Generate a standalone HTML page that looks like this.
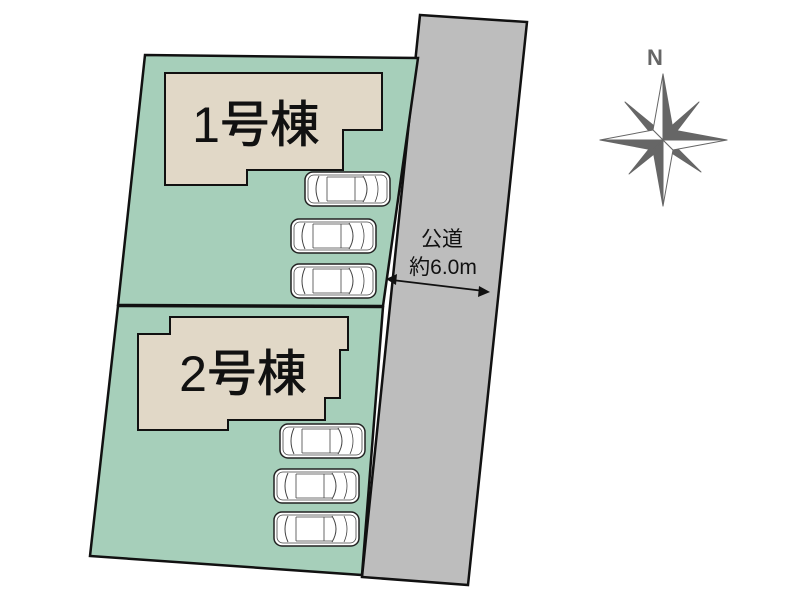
<!DOCTYPE html>
<html><head><meta charset="utf-8"><style>html,body{margin:0;padding:0;background:#fff}svg{display:block}</style></head>
<body>
<svg width="800" height="600" viewBox="0 0 800 600" xmlns="http://www.w3.org/2000/svg">
<defs>
<g id="car">
<rect x="0" y="0" width="85" height="34" rx="8" fill="#fff" stroke="#222" stroke-width="1.5"/>
<rect x="3" y="3" width="79" height="28" rx="6" fill="none" stroke="#444" stroke-width="0.8"/>
<path d="M14 4 Q8 17 14 30" fill="none" stroke="#444" stroke-width="1"/>
<path d="M22 5 L22 29 M50 5 L50 29" fill="none" stroke="#444" stroke-width="0.8"/>
<path d="M58 4 Q66 17 58 30" fill="none" stroke="#444" stroke-width="1"/>
<path d="M70 4 Q76 17 70 30" fill="none" stroke="#444" stroke-width="0.8"/>
<path d="M22 5 L58 5 M22 29 L58 29" fill="none" stroke="#444" stroke-width="0.8"/>
</g>
</defs>
<polygon points="420,15 527,22 468,585 362,577" fill="#bdbdbd" stroke="#111" stroke-width="2.5"/>
<polygon points="145,55 418,58 383,306 118,305" fill="#a6cfba" stroke="#111" stroke-width="2.5"/>
<polygon points="118,306 383,307 362,575 90,556" fill="#a6cfba" stroke="#111" stroke-width="2.5"/>
<polygon points="165,73 382,73 382,130 343,130 343,170 247,170 247,185 165,185" fill="#e1d8c7" stroke="#111" stroke-width="2"/>
<polygon points="170,317 348,317 348,350 340,350 340,398 325,398 325,420 228,420 228,430 138,430 138,334 170,334" fill="#e1d8c7" stroke="#111" stroke-width="2"/>
<text x="256" y="142" font-family="Liberation Sans, 'Noto Sans CJK JP', sans-serif" font-size="50" font-weight="500" text-anchor="middle" fill="#111">1号棟</text>
<text x="243" y="391" font-family="Liberation Sans, 'Noto Sans CJK JP', sans-serif" font-size="50" font-weight="500" text-anchor="middle" fill="#111">2号棟</text>
<use href="#car" x="305" y="172"/>
<use href="#car" x="291" y="219"/>
<use href="#car" x="291" y="264"/>
<use href="#car" x="280" y="424"/>
<use href="#car" x="274" y="469"/>
<use href="#car" x="274" y="512"/>
<text x="442" y="246" font-family="Liberation Sans, 'Noto Sans CJK JP', sans-serif" font-size="21" text-anchor="middle" fill="#111">公道</text>
<text x="443" y="274" font-family="Liberation Sans, 'Noto Sans CJK JP', sans-serif" font-size="21" text-anchor="middle" fill="#111">約6.0m</text>
<line x1="392" y1="280" x2="484" y2="291" stroke="#111" stroke-width="1.8"/>
<polygon points="386,279 397,274 396,285" fill="#111"/>
<polygon points="490,292 479,286 478,297" fill="#111"/>
<text x="655" y="65" font-family="Liberation Sans, sans-serif" font-size="22" font-weight="bold" text-anchor="middle" fill="#666">N</text>
<g transform="translate(663,140)" fill="#666" stroke="#666" stroke-width="1" stroke-linejoin="round">
<polygon points="-38,-38 -4,-10 -10,-4"/>
<polygon points="36,-38 10,-4 4,-10"/>
<polygon points="-34,34 -10,4 -4,10"/>
<polygon points="38,32 4,10 10,4"/>
<polygon points="0,-66 10,-10 0,0"/>
<polygon points="0,-66 -10,-10 0,0" fill="#fff"/>
<polygon points="0,66 -10,10 0,0"/>
<polygon points="0,66 10,10 0,0" fill="#fff"/>
<polygon points="64,0 10,10 0,0" fill="#fff"/>
<polygon points="64,0 10,-10 0,0"/>
<polygon points="-63,0 -10,-10 0,0" fill="#fff"/>
<polygon points="-63,0 -10,10 0,0"/>
</g>
</svg>
</body></html>
